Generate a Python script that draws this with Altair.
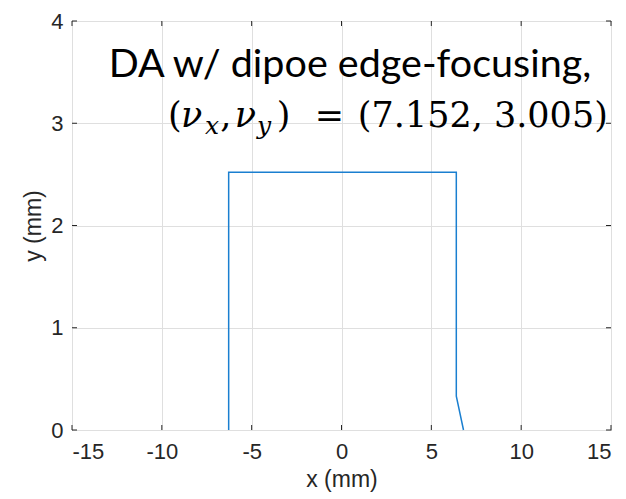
import altair as alt
import pandas as pd

# boundary of the dynamic aperture (mm)
da_x = [-6.28, -6.28, 6.39, 6.39, 6.79]
da_y = [0.0, 2.52, 2.52, 0.33, 0.0]

x_ticks = [-15, -10, -5, 0, 5, 10, 15]
y_ticks = [0, 1, 2, 3, 4]

title_line1 = "DA w/ dipoe edge-focusing,"
tune_x = "7.152"
tune_y = "3.005"

AX = "#262626"
W, H = 539, 409

line_df = pd.DataFrame({"x": da_x, "y": da_y, "order": list(range(len(da_x)))})

xs = alt.Scale(domain=[-15, 15], nice=False, zero=False)
ys = alt.Scale(domain=[0, 4], nice=False, zero=False)

axis_common = dict(
    grid=True, gridColor="#dfdfdf", gridWidth=1, ticks=False, domain=False,
    labelFont="Liberation Sans", labelFontSize=22, labelColor=AX,
    titleFont="Liberation Sans", titleFontSize=23, titleFontWeight="normal",
    titleColor=AX, labelExpr="'' + datum.value",
)

base_line = alt.Chart(line_df).mark_line(color="#1a7fd0", strokeWidth=1.5).encode(
    x=alt.X("x:Q", scale=xs,
            axis=alt.Axis(values=x_ticks, title="x (mm)", labelPadding=11,
                          titlePadding=6, **axis_common)),
    y=alt.Y("y:Q", scale=ys,
            axis=alt.Axis(values=y_ticks, title="y (mm)", labelPadding=9,
                          titlePadding=5, **axis_common)),
    order="order:Q",
)

xt = pd.DataFrame({"t": x_ticks})
yt = pd.DataFrame({"t": y_ticks})
tick_len_y = 5 / (H / 4)
tick_len_x = 5 / (W / 30)

xtick_bot = alt.Chart(xt).mark_rule(color=AX, strokeWidth=1).encode(
    x=alt.X("t:Q", scale=xs), y=alt.datum(0), y2=alt.datum(tick_len_y))
xtick_top = alt.Chart(xt).mark_rule(color=AX, strokeWidth=1).encode(
    x=alt.X("t:Q", scale=xs), y=alt.datum(4), y2=alt.datum(4 - tick_len_y))
ytick_l = alt.Chart(yt).mark_rule(color=AX, strokeWidth=1).encode(
    y=alt.Y("t:Q", scale=ys), x=alt.datum(-15), x2=alt.datum(-15 + tick_len_x))
ytick_r = alt.Chart(yt).mark_rule(color=AX, strokeWidth=1).encode(
    y=alt.Y("t:Q", scale=ys), x=alt.datum(15), x2=alt.datum(15 - tick_len_x))


def txt(s, x, y, font, size, style="normal"):
    return alt.Chart().mark_text(
        text=s, font=font, fontSize=size, fontStyle=style, align="left",
        baseline="alphabetic", color="#000000",
    ).encode(x=alt.datum(x), y=alt.datum(y))


MF = "DejaVu Serif"
BL = 2.96   # baseline of tune line
SB = 2.89   # subscript baseline
texts = [
    txt(title_line1, -12.95, 3.455, "Lato", 39.5),
    txt("(", -9.66, BL, MF, 35),
    txt("\u03bd", -8.94, BL, MF, 35, "italic"),
    txt("x", -7.6, SB, MF, 25, "italic"),
    txt(",", -6.75, BL, MF, 35),
    txt("\u03bd", -5.94, BL, MF, 35, "italic"),
    txt("y", -4.71, SB, MF, 25, "italic"),
    txt(")", -3.6, BL, MF, 35),
    txt("=", -1.49, BL, MF, 35),
    txt(f"({tune_x}, {tune_y})", 0.91, BL, MF, 35),
]

chart = alt.layer(base_line, xtick_bot, xtick_top, ytick_l, ytick_r, *texts).properties(
    width=W, height=H,
    autosize=alt.AutoSizeParams(type="none"),
    padding={"left": 72, "top": 21, "right": 15, "bottom": 69},
    background="white",
).configure_view(stroke=AX, strokeWidth=1)

chart.save("out.html", embed_options={"renderer": "svg", "actions": False})
